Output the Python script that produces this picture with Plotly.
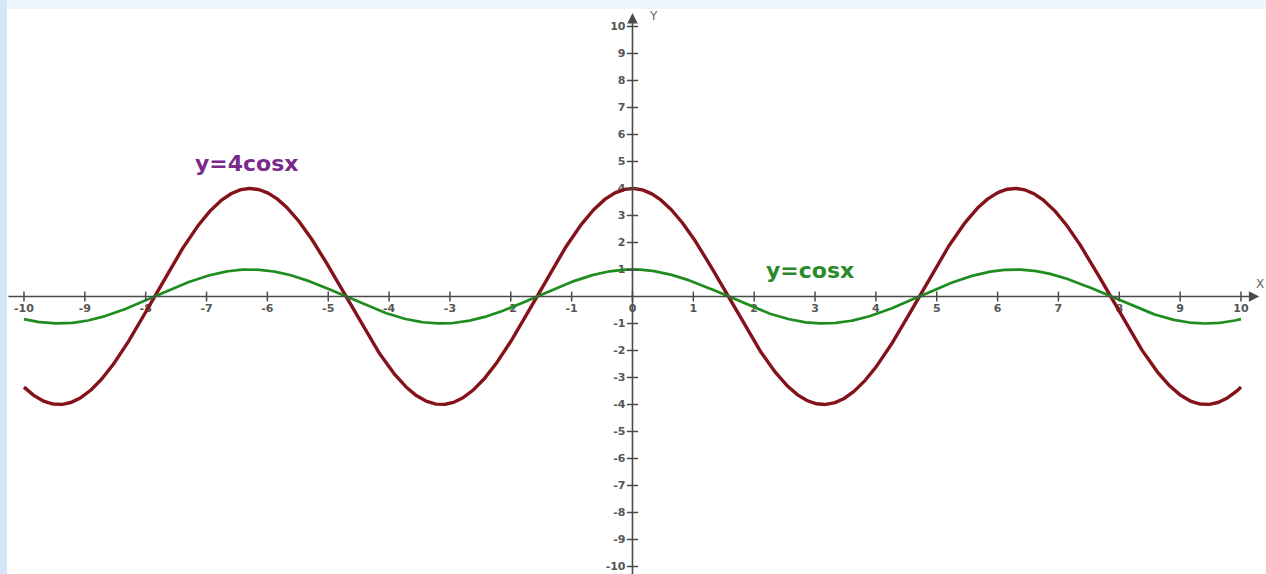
import numpy as np
import plotly.graph_objects as go

# Curves: y = A*cos(x) on [-10, 10]
X_START, X_END = -10, 10
AMPLITUDES = [4, 1]
CURVE_LABELS = ["y=4cosx", "y=cosx"]
CURVE_COLORS = ["#84121a", "#1f8c1f"]
LABEL_COLORS = ["#7a2a8c", "#2a8a2a"]
LABEL_POS = [(-6.33, 4.94), (2.92, 0.98)]
CURVE_WIDTHS = [3.4, 2.7]

# Axis ticks and labels
X_TICKS = list(range(-10, 11))
Y_TICKS = [v for v in range(-10, 11) if v != 0]

W, H = 1266, 574
X_RANGE = [-10.394, 10.411]
Y_RANGE = [-10.278, 10.981]
AXIS_COLOR = "#4a4a4a"

fig = go.Figure()

xs = np.linspace(X_START, X_END, 1200)
for amp, name, col, lw in zip(AMPLITUDES, CURVE_LABELS, CURVE_COLORS, CURVE_WIDTHS):
    fig.add_trace(go.Scatter(x=xs, y=amp * np.cos(xs), mode="lines",
                             line=dict(color=col, width=lw), name=name,
                             hoverinfo="skip"))

# cross ticks on both axes
fig.add_trace(go.Scatter(x=X_TICKS, y=[0] * len(X_TICKS), mode="markers",
                         marker=dict(symbol="line-ns-open", size=7, color=AXIS_COLOR,
                                     line=dict(color=AXIS_COLOR, width=1.5)),
                         hoverinfo="skip"))
fig.add_trace(go.Scatter(x=[0] * len(Y_TICKS), y=Y_TICKS, mode="markers",
                         marker=dict(symbol="line-ew-open", size=8, color=AXIS_COLOR,
                                     line=dict(color=AXIS_COLOR, width=1.5)),
                         hoverinfo="skip"))

annotations = []
# axis lines with arrowheads
annotations.append(dict(x=10.30, y=0, ax=-10.28, ay=0, xref="x", yref="y",
                        axref="x", ayref="y", text="", showarrow=True,
                        arrowhead=2, arrowsize=1.3, arrowwidth=1.6,
                        arrowcolor=AXIS_COLOR, standoff=0))
annotations.append(dict(x=0, y=10.50, ax=0, ay=-10.4, xref="x", yref="y",
                        axref="x", ayref="y", text="", showarrow=True,
                        arrowhead=2, arrowsize=1.3, arrowwidth=1.6,
                        arrowcolor=AXIS_COLOR, standoff=0))
annotations.append(dict(x=0.34, y=10.40, xref="x", yref="y", text="Y",
                        showarrow=False, font=dict(size=12, color="#666",
                                                   family="DejaVu Sans")))
annotations.append(dict(x=10.32, y=0.45, xref="x", yref="y", text="X",
                        showarrow=False, font=dict(size=12, color="#666",
                                                   family="DejaVu Sans")))
for name, col, (lx, ly) in zip(CURVE_LABELS, LABEL_COLORS, LABEL_POS):
    annotations.append(dict(x=lx, y=ly, xref="x", yref="y", text=name,
                            showarrow=False,
                            font=dict(size=22, color=col, weight="bold",
                                      family="DejaVu Sans")))

shapes = [
    # light blue frame bands
    dict(type="rect", xref="paper", yref="paper", x0=0, x1=1, y0=1 - 9 / H, y1=1,
         fillcolor="#edf5fd", line=dict(width=0), layer="above"),
    dict(type="rect", xref="paper", yref="paper", x0=0, x1=7 / W, y0=0, y1=1,
         fillcolor="#d3e7fb", line=dict(width=0), layer="above"),
]

tick_font = dict(size=11, color="#555", family="DejaVu Sans", weight="bold")
fig.update_layout(
    width=W, height=H,
    margin=dict(l=0, r=0, t=0, b=0),
    paper_bgcolor="white", plot_bgcolor="white",
    showlegend=False,
    annotations=annotations,
    shapes=shapes,
    xaxis=dict(range=X_RANGE, anchor="free", position=(H - 296.5) / H,
               tickvals=X_TICKS, ticktext=[str(v) for v in X_TICKS],
               showgrid=False, zeroline=False, showline=False, ticks="",
               ticklabelstandoff=3,
               tickfont=tick_font, layer="below traces", fixedrange=True),
    yaxis=dict(range=Y_RANGE, anchor="free", position=632.5 / W,
               tickvals=Y_TICKS, ticktext=[str(v) for v in Y_TICKS],
               showgrid=False, zeroline=False, showline=False, ticks="",
               ticklabelstandoff=7,
               tickfont=tick_font, layer="below traces", fixedrange=True),
)

fig.write_html("out.html")
